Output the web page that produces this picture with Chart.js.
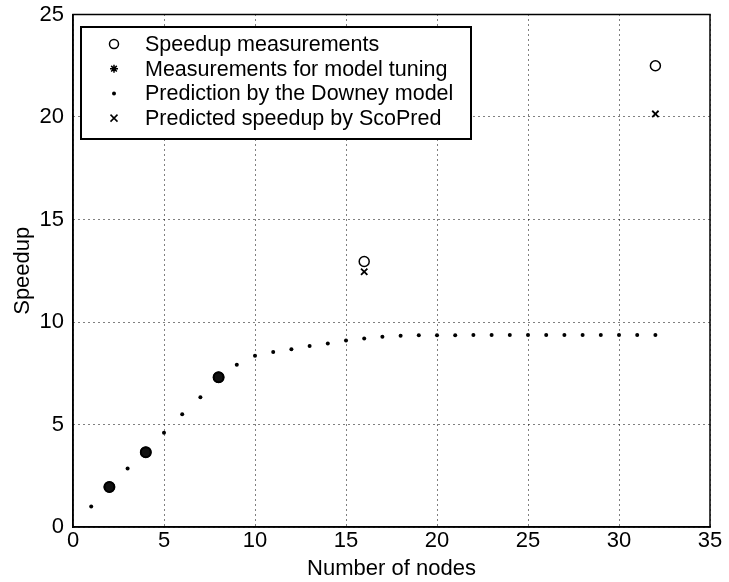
<!DOCTYPE html>
<html>
<head>
<meta charset="utf-8">
<script src="https://cdn.jsdelivr.net/npm/chart.js@4"></script>
<style>
  body { margin: 0; background: #fff; }
</style>
</head>
<body>
<canvas id="speedupCanvas" width="729" height="582"></canvas>
<script>
// Downey model prediction, one dot per node count
const nodes = [1, 2, 3, 4, 5, 6, 7, 8, 9, 10, 11, 12, 13, 14, 15, 16,
               17, 18, 19, 20, 21, 22, 23, 24, 25, 26, 27, 28, 29, 30, 31, 32];
const downey = [1.0, 1.95, 2.85, 3.63, 4.6, 5.5, 6.33, 7.22, 7.91, 8.35, 8.54, 8.67, 8.83, 8.95, 9.1, 9.2,
                9.28, 9.33, 9.35, 9.35, 9.35, 9.36, 9.37, 9.37, 9.37, 9.37, 9.37, 9.37, 9.37, 9.37, 9.37, 9.37];

const measNodes = [2, 4, 8, 16, 32];
const measSpeedup = [1.95, 3.65, 7.3, 12.95, 22.5];

const tuningNodes = [2, 4, 8];
const tuningSpeedup = [1.95, 3.65, 7.3];

const scopredNodes = [16, 32];
const scopredSpeedup = [12.45, 20.15];

const xTicks = [0, 5, 10, 15, 20, 25, 30, 35];
const yTicks = [0, 5, 10, 15, 20, 25];

const legendLabels = [
  'Speedup measurements',
  'Measurements for model tuning',
  'Prediction by the Downey model',
  'Predicted speedup by ScoPred'
];

const FONT = '"Liberation Sans", Arial, sans-serif';

function toPoints(xs, ys) {
  return xs.map((x, i) => ({ x: x, y: ys[i] }));
}

// draws a marker in the same style as the plotted points
function drawMarker(ctx, kind, x, y) {
  ctx.save();
  ctx.strokeStyle = '#000';
  ctx.fillStyle = '#000';
  ctx.lineWidth = 1.5;
  ctx.beginPath();
  if (kind === 'circle') {
    ctx.arc(x, y, 4.5, 0, Math.PI * 2);
    ctx.stroke();
  } else if (kind === 'star') {
    for (let a = 0; a < 4; a++) {
      const ang = a * Math.PI / 4;
      ctx.moveTo(x - 4 * Math.cos(ang), y - 4 * Math.sin(ang));
      ctx.lineTo(x + 4 * Math.cos(ang), y + 4 * Math.sin(ang));
    }
    ctx.stroke();
  } else if (kind === 'dot') {
    ctx.arc(x, y, 2, 0, Math.PI * 2);
    ctx.fill();
  } else {
    ctx.moveTo(x - 3.5, y - 3.5); ctx.lineTo(x + 3.5, y + 3.5);
    ctx.moveTo(x + 3.5, y - 3.5); ctx.lineTo(x - 3.5, y + 3.5);
    ctx.stroke();
  }
  ctx.restore();
}

const boxAndLegend = {
  id: 'boxAndLegend',
  afterDraw(chart) {
    const ctx = chart.ctx;
    const a = chart.chartArea;
    ctx.save();
    ctx.strokeStyle = '#000';
    ctx.lineWidth = 1.5;
    ctx.strokeRect(a.left, a.top, a.right - a.left, a.bottom - a.top);

    // legend box
    const lx = 81, ly = 27, lw = 390, lh = 112;
    ctx.fillStyle = '#fff';
    ctx.fillRect(lx, ly, lw, lh);
    ctx.lineWidth = 2;
    ctx.strokeRect(lx, ly, lw, lh);
    const kinds = ['circle', 'star', 'dot', 'x'];
    ctx.font = '21.5px ' + FONT;
    ctx.fillStyle = '#000';
    ctx.textBaseline = 'middle';
    for (let i = 0; i < legendLabels.length; i++) {
      const yy = 44 + i * 24.7;
      drawMarker(ctx, kinds[i], 114, yy);
      ctx.fillText(legendLabels[i], 145, yy + 1);
    }
    ctx.restore();
  }
};

const axisFont = { family: FONT, size: 22 };

new Chart(document.getElementById('speedupCanvas'), {
  type: 'scatter',
  data: {
    datasets: [
      {
        label: legendLabels[0],
        data: toPoints(measNodes, measSpeedup),
        pointStyle: 'circle',
        pointRadius: 5,
        borderColor: '#000',
        backgroundColor: 'rgba(0,0,0,0)',
        borderWidth: 1.5
      },
      {
        label: legendLabels[1],
        data: toPoints(tuningNodes, tuningSpeedup),
        pointStyle: 'circle',
        pointRadius: 5,
        borderColor: '#000',
        backgroundColor: '#111',
        borderWidth: 2
      },
      {
        label: legendLabels[2],
        data: toPoints(nodes, downey),
        pointStyle: 'circle',
        pointRadius: 2,
        borderWidth: 0,
        backgroundColor: '#000'
      },
      {
        label: legendLabels[3],
        data: toPoints(scopredNodes, scopredSpeedup),
        pointStyle: 'crossRot',
        pointRadius: 4.5,
        borderColor: '#000',
        borderWidth: 1.8
      }
    ]
  },
  options: {
    responsive: false,
    animation: false,
    layout: { padding: { top: 12, right: 19, left: 0, bottom: 0 } },
    plugins: {
      legend: { display: false },
      tooltip: { enabled: false }
    },
    scales: {
      x: {
        type: 'linear',
        min: 0,
        max: 35,
        afterBuildTicks: (scale) => { scale.ticks = xTicks.map(v => ({ value: v })); },
        afterFit: (scale) => { scale.height = 55; },
        ticks: { color: '#000', font: axisFont, padding: 1, maxRotation: 0 },
        grid: { color: '#000', lineWidth: 1, drawTicks: false },
        border: { display: true, color: '#000', width: 1.5, dash: [1, 4] },
        title: {
          display: true,
          text: 'Number of nodes',
          color: '#000',
          font: axisFont,
          padding: { top: 0, bottom: 0 }
        }
      },
      y: {
        type: 'linear',
        min: 0,
        max: 25,
        afterBuildTicks: (scale) => { scale.ticks = yTicks.map(v => ({ value: v })); },
        afterFit: (scale) => { scale.width = 73; },
        ticks: { color: '#000', font: { family: FONT, size: 22, lineHeight: 0.5 }, padding: 9 },
        grid: { color: '#000', lineWidth: 1, drawTicks: false },
        border: { display: true, color: '#000', width: 1.5, dash: [1, 4] },
        title: {
          display: true,
          text: 'Speedup',
          color: '#000',
          font: axisFont,
          padding: { top: 10, bottom: 0 }
        }
      }
    }
  },
  plugins: [boxAndLegend]
});
</script>
</body>
</html>
